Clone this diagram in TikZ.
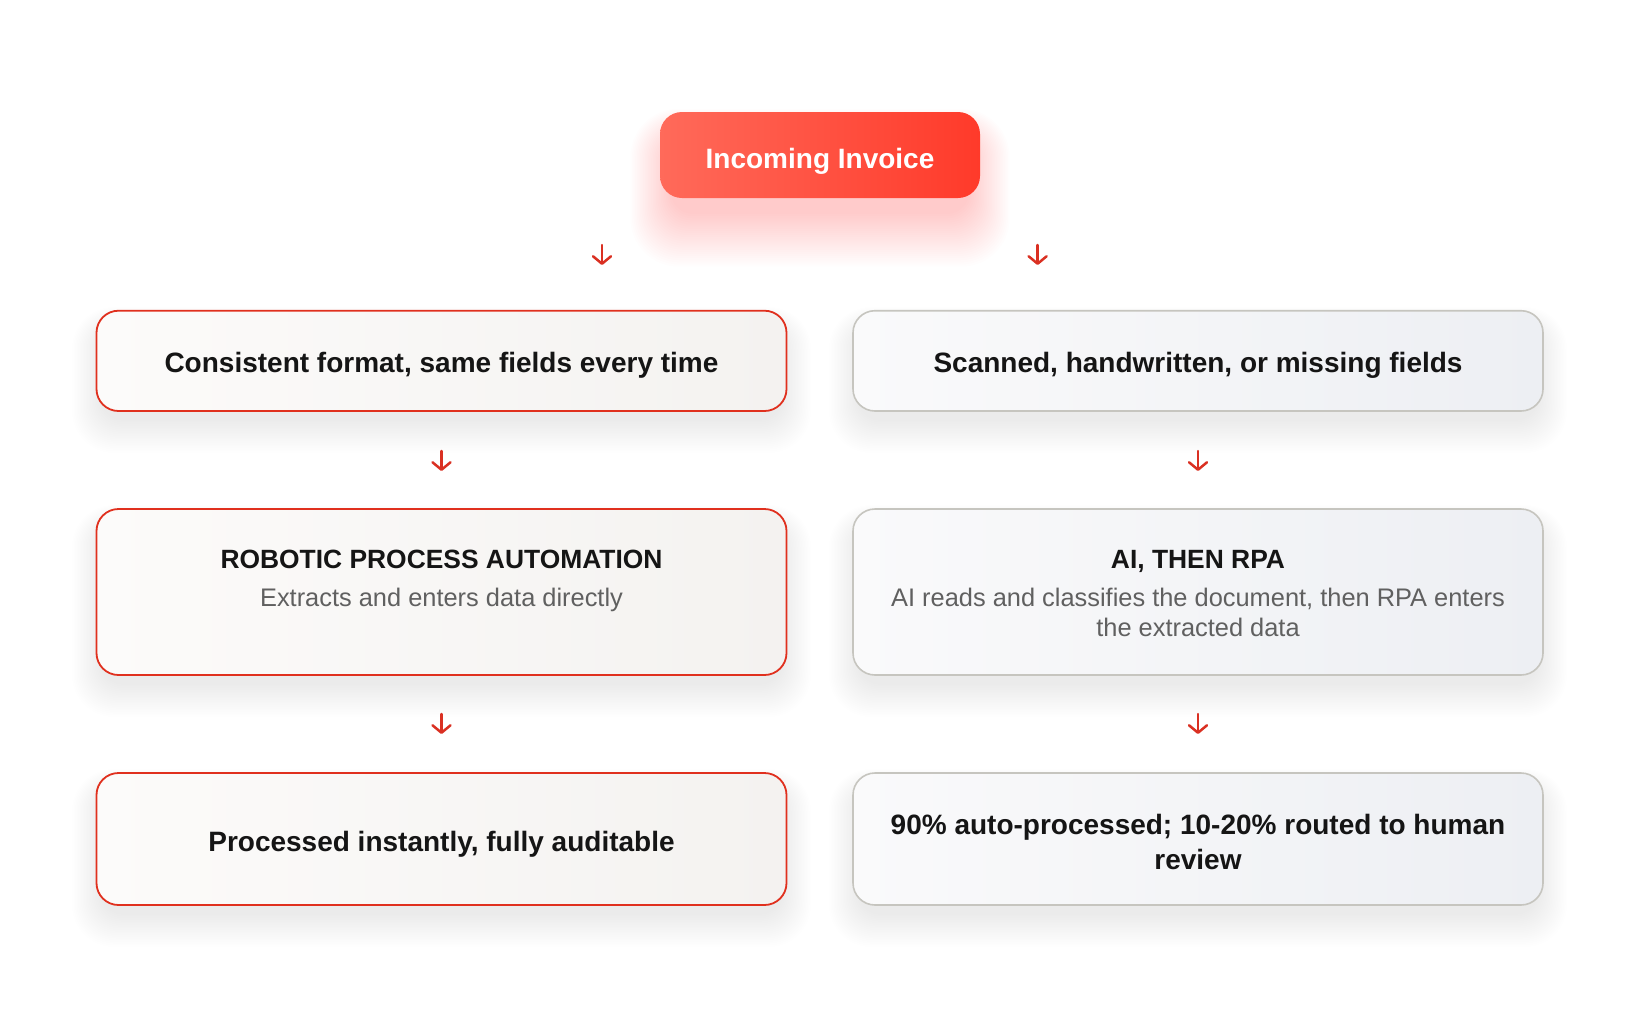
\documentclass[tikz,border=0pt]{standalone}
\usepackage{fontspec}
\setmainfont{Liberation Sans}
\usetikzlibrary{arrows.meta}
\definecolor{brand}{HTML}{E0301E}
\definecolor{arrred}{HTML}{DA3022}
\definecolor{invA}{HTML}{FF6A5A}
\definecolor{invB}{HTML}{FF3A2A}
\definecolor{warmA}{HTML}{FCFBFA}
\definecolor{warmB}{HTML}{F4F2F0}
\definecolor{coolA}{HTML}{FAFAFB}
\definecolor{coolB}{HTML}{EDEFF3}
\definecolor{grayline}{HTML}{C6C5BF}
\definecolor{ink}{HTML}{151515}
\definecolor{subink}{HTML}{606060}
\newcommand\mysoftshadow[5]{% x1 y1 x2 y2 radius
  \foreach \i in {1,...,20}{
    \fill[black,opacity=0.0042,rounded corners=#5pt+\i pt]
      (#1-\i*1.5+6, #2+16-\i*1.0) rectangle (#3+\i*1.5-6, #4+8+\i*1.7);
  }}
\begin{document}
\begin{tikzpicture}[x=1pt,y=-1pt,
  boxL/.style={draw=brand, line width=1.8pt, rounded corners=22pt,
    left color=warmA, right color=warmB, minimum width=690pt, inner sep=0pt},
  boxR/.style={draw=grayline, line width=1.6pt, rounded corners=22pt,
    left color=coolA, right color=coolB, minimum width=690pt, inner sep=0pt},
  headtxt/.style={text=ink, font=\fontsize{28}{34}\selectfont\bfseries, inner sep=0pt, anchor=base},
  titletxt/.style={text=ink, font=\fontsize{26.4}{30}\selectfont\bfseries, inner sep=0pt, anchor=base},
  subtxt/.style={text=subink, font=\fontsize{25.4}{30}\selectfont, inner sep=0pt, anchor=base},
  arr/.style={draw=arrred, line width=2.5pt, line cap=round,
    -{Straight Barb[length=7.5pt,width=18pt,line cap=round,line join=round]}}
]
\useasboundingbox (0,0) rectangle (1640,1018);
\fill[white] (0,0) rectangle (1640,1018);

% glow under invoice
\foreach \i in {1,...,26}{
  \fill[invB,opacity=0.0095,rounded corners=22pt+\i pt]
    (660-\i*1.6+12, 112+28-\i*1.2) rectangle (980+\i*1.6-12, 198+14+\i*2.1);
}
% shadows under boxes
\mysoftshadow{96}{311}{787}{411}{22}
\mysoftshadow{853}{311}{1543}{411}{22}
\mysoftshadow{96}{509}{787}{675}{22}
\mysoftshadow{853}{509}{1543}{675}{22}
\mysoftshadow{96}{773}{787}{905}{22}
\mysoftshadow{853}{773}{1543}{905}{22}

% start node
\node[rounded corners=22pt, left color=invA, right color=invB, minimum width=320pt,
  minimum height=86pt, inner sep=0pt] (inv) at (820,155) {};
\node[text=white, inner sep=0pt, anchor=base,
  font=\fontsize{28}{30}\selectfont\bfseries] (invt) at (820,168.5) {Incoming Invoice};

% row 1
\node[boxL, minimum height=100.3pt] (l1) at (441.5,360.85) {};
\node[boxR, minimum height=100.3pt] (r1) at (1198,360.85) {};
\node[headtxt] (l1t) at (441.5,372.7) {Consistent format, same fields every time};
\node[headtxt] (r1t) at (1198,372.7) {Scanned, handwritten, or missing fields};

% row 2
\node[boxL, minimum height=166pt] (l2) at (441.5,592) {};
\node[boxR, minimum height=166pt] (r2) at (1198,592) {};
\node[titletxt] (l2t) at (441.5,568.3) {ROBOTIC PROCESS AUTOMATION};
\node[subtxt] (l2s) at (441.5,606) {Extracts and enters data directly};
\node[titletxt] (r2t) at (1198,568.3) {AI, THEN RPA};
\node[subtxt] (r2s1) at (1198,606) {AI reads and classifies the document, then RPA enters};
\node[subtxt] (r2s2) at (1198,636.5) {the extracted data};

% row 3
\node[boxL, minimum height=132pt] (l3) at (441.5,839) {};
\node[boxR, minimum height=132pt] (r3) at (1198,839) {};
\node[headtxt] (l3t) at (441.5,851) {Processed instantly, fully auditable};
\node[headtxt] (r3t1) at (1198,834) {90\% auto-processed; 10-20\% routed to human};
\node[headtxt] (r3t2) at (1198,869.5) {review};

% arrows
\coordinate (a1s) at (602,245); \coordinate (a1e) at (602,265);
\coordinate (a2s) at (1037.6,245); \coordinate (a2e) at (1037.6,265);
\coordinate (a3s) at (441.5,451); \coordinate (a3e) at (441.5,471);
\coordinate (a4s) at (1198,451); \coordinate (a4e) at (1198,471);
\coordinate (a5s) at (441.5,714); \coordinate (a5e) at (441.5,734);
\coordinate (a6s) at (1198,714); \coordinate (a6e) at (1198,734);
\draw[arr] (a1s) -- (a1e);
\draw[arr] (a2s) -- (a2e);
\draw[arr] (a3s) -- (a3e);
\draw[arr] (a4s) -- (a4e);
\draw[arr] (a5s) -- (a5e);
\draw[arr] (a6s) -- (a6e);
\end{tikzpicture}
\end{document}
